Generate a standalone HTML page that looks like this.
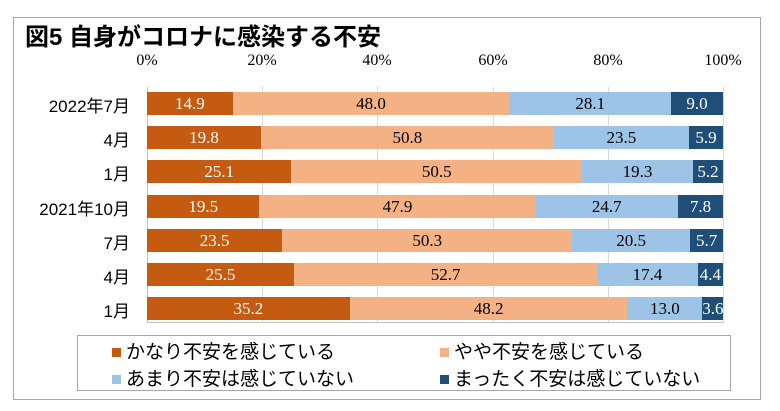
<!DOCTYPE html>
<html><head><meta charset="utf-8"><style>
body{margin:0;width:780px;height:411px;background:#fff;position:relative;overflow:hidden;font-family:"Liberation Sans","Noto Sans CJK JP",sans-serif}
.a{position:absolute}
.frame{left:13px;top:17px;width:748px;height:383px;border:1px solid #a6a6a6;box-sizing:border-box}
.title{left:25px;top:17px;font-size:24px;font-weight:bold;color:#000}
.tick{top:52px;font-family:"Liberation Serif",serif;font-size:16px;width:60px;text-align:center;margin-left:-30px}
.grid{top:87px;height:236px;border-left:1px solid #d9d9d9}
.bar{position:absolute;height:23px;display:flex}
.bar div{height:23px;line-height:23px;text-align:center;font-family:"Liberation Serif",serif;font-size:17px;overflow:hidden;white-space:nowrap}
.c1{background:#c55a11;color:#fff}.c2{background:#f4b183;color:#000}.c3{background:#9dc3e6;color:#000}.c4{background:#1f4e79;color:#fff}
.lab{font-size:17px;width:130px;text-align:right;left:0}
.leg{left:77px;top:335px;width:654px;height:56px;border:1px solid #a6a6a6;box-sizing:border-box}
.li{font-size:19px;color:#000}
.mk{width:9px;height:9px;display:inline-block;margin-right:5px;vertical-align:1px}
</style></head><body>
<div class="a frame"></div>
<div class="a title">図5 自身がコロナに感染する不安</div>
<div class="a tick" style="left:147px">0%</div>
<div class="a tick" style="left:262px">20%</div>
<div class="a tick" style="left:377px">40%</div>
<div class="a tick" style="left:493px">60%</div>
<div class="a tick" style="left:608px">80%</div>
<div class="a tick" style="left:723px">100%</div>
<div class="a grid" style="left:147px;border-left-color:#bfbfbf"></div>
<div class="a grid" style="left:262px"></div>
<div class="a grid" style="left:377px"></div>
<div class="a grid" style="left:493px"></div>
<div class="a grid" style="left:608px"></div>
<div class="a grid" style="left:723px"></div>
<div class="a" style="left:147px;top:322px;width:576px;border-top:1px solid #bfbfbf"></div>
<div id="bars"></div>
<div class="a leg"></div>
<div class="a li" style="left:112px;top:337px"><span class="mk c1"></span>かなり不安を感じている</div>
<div class="a li" style="left:440px;top:337px"><span class="mk c2"></span>やや不安を感じている</div>
<div class="a li" style="left:112px;top:364px"><span class="mk c3"></span>あまり不安は感じていない</div>
<div class="a li" style="left:440px;top:364px"><span class="mk c4"></span>まったく不安は感じていない</div>
<script>
var d=[["2022年7月",14.9,48.0,28.1,9.0],["4月",19.8,50.8,23.5,5.9],["1月",25.1,50.5,19.3,5.2],["2021年10月",19.5,47.9,24.7,7.8],["7月",23.5,50.3,20.5,5.7],["4月",25.5,52.7,17.4,4.4],["1月",35.2,48.2,13.0,3.6]];
var h="";
d.forEach(function(r,i){var y=92+i*34.2;var t=r[1]+r[2]+r[3]+r[4];
h+='<div class="a lab" style="top:'+y+'px">'+r[0]+'</div><div class="bar" style="left:147px;top:'+y+'px;width:576px">';
for(var k=1;k<=4;k++){h+='<div class="c'+k+'" style="width:'+(576*r[k]/t)+'px">'+r[k].toFixed(1)+'</div>';}
h+='</div>';});
document.getElementById("bars").innerHTML=h;
</script>
</body></html>
